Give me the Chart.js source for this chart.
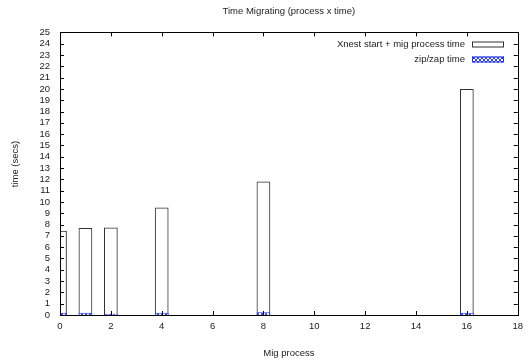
<!DOCTYPE html>
<html>
<head>
<meta charset="utf-8">
<script src="https://cdn.jsdelivr.net/npm/chart.js@4"></script>
<style>
    html, body { margin: 0; padding: 0; background: #fff; }
    #wrap { width: 529px; height: 362px; }
</style>
</head>
<body>
<div id="wrap"><canvas id="migChart"></canvas></div>
<script>
// data
const procCounts = [0, 1, 2, 4, 8, 16];
const xnestTimes = [7.45, 7.7, 7.75, 9.5, 11.8, 20.0];
const zipTimes = [0.2, 0.2, 0.1, 0.2, 0.25, 0.2];
const seriesLabels = ['Xnest start + mig process time', 'zip/zap time'];
const chartTitle = 'Time Migrating (process x time)';
const xTitle = 'Mig process';
const yTitle = 'time (secs)';

const FONT = '"Liberation Sans", Arial, sans-serif';

// blue crosshatch like gnuplot's fill pattern
function makeHatch() {
    const c = document.createElement('canvas');
    c.width = 4; c.height = 4;
    const g = c.getContext('2d');
    g.fillStyle = '#fff';
    g.fillRect(0, 0, 4, 4);
    g.strokeStyle = '#3344ff';
    g.lineWidth = 1;
    g.beginPath();
    g.moveTo(0, 0); g.lineTo(4, 4);
    g.moveTo(4, 0); g.lineTo(0, 4);
    g.stroke();
    return g.createPattern(c, 'repeat');
}
const hatch = makeHatch();

// frame, mirrored inward ticks, y title and gnuplot style key
const gnuFrame = {
    id: 'gnuFrame',
    afterDraw(chart) {
        const { ctx, chartArea: a, scales } = chart;
        ctx.save();
        ctx.strokeStyle = '#000';
        ctx.lineWidth = 1;
        ctx.strokeRect(Math.round(a.left) + 0.5, Math.round(a.top) + 0.5,
            Math.round(a.right - a.left), Math.round(a.bottom - a.top));

        const tl = 4;
        ctx.beginPath();
        scales.y.ticks.forEach((t, i) => {
            const y = Math.round(scales.y.getPixelForTick(i)) + 0.5;
            ctx.moveTo(a.left, y); ctx.lineTo(a.left + tl, y);
            ctx.moveTo(a.right, y); ctx.lineTo(a.right - tl, y);
        });
        scales.x.ticks.forEach((t, i) => {
            const x = Math.round(scales.x.getPixelForTick(i)) + 0.5;
            ctx.moveTo(x, a.bottom); ctx.lineTo(x, a.bottom - tl);
            ctx.moveTo(x, a.top); ctx.lineTo(x, a.top + tl);
        });
        ctx.stroke();

        // y axis title
        ctx.fillStyle = '#222';
        ctx.font = '9.5px ' + FONT;
        ctx.textAlign = 'center';
        ctx.textBaseline = 'middle';
        ctx.translate(15, 164);
        ctx.rotate(-Math.PI / 2);
        ctx.fillText(yTitle, 0, 0);
        ctx.setTransform(1, 0, 0, 1, 0, 0);

        // key: text right aligned, swatch on the right
        const ds = chart.data.datasets;
        ctx.textAlign = 'right';
        [0, 1].forEach(i => {
            const cy = 44.5 + i * 15;
            ctx.fillStyle = '#222';
            ctx.fillText(ds[i].label, 465, cy);
            ctx.fillStyle = i === 0 ? '#fff' : hatch;
            ctx.fillRect(472, cy - 3, 32, 6);
            ctx.strokeStyle = ds[i].borderColor;
            ctx.strokeRect(472.5, cy - 2.5, 31, 5);
        });
        ctx.restore();
    }
};

new Chart(document.getElementById('migChart'), {
    type: 'bar',
    data: {
        datasets: [{
            label: seriesLabels[0],
            data: procCounts.map((p, i) => ({ x: p, y: xnestTimes[i] })),
            backgroundColor: 'rgba(255,255,255,0)',
            borderColor: '#333',
            borderWidth: 1,
            grouped: false,
            order: 1
        }, {
            label: seriesLabels[1],
            data: procCounts.map((p, i) => ({ x: p, y: zipTimes[i] })),
            backgroundColor: hatch,
            borderColor: '#1f2fff',
            borderWidth: 1,
            grouped: false,
            order: 0
        }]
    },
    options: {
        responsive: true,
        maintainAspectRatio: false,
        animation: false,
        barPercentage: 0.54,
        categoryPercentage: 1,
        layout: { padding: { left: 0, right: 11, top: 0, bottom: 0 } },
        plugins: {
            legend: { display: false },
            tooltip: { enabled: false },
            title: {
                display: true,
                text: chartTitle,
                fullSize: false,
                color: '#222',
                font: { family: FONT, size: 9.5, weight: 'normal', lineHeight: 1.2 },
                padding: { top: 6, bottom: 15 }
            }
        },
        scales: {
            x: {
                type: 'linear',
                min: 0,
                max: 18,
                offset: false,
                grid: { display: false, drawTicks: false, offset: false },
                border: { display: false },
                ticks: { stepSize: 2, autoSkip: false, color: '#222', padding: 6, maxRotation: 0, font: { family: FONT, size: 9.5 } },
                title: { display: true, text: xTitle, color: '#222', padding: { top: 3, bottom: 3 }, font: { family: FONT, size: 9.5, lineHeight: 1.2 } },
                afterFit: (s) => { s.height = 47; }
            },
            y: {
                min: 0,
                max: 25,
                grid: { display: false, drawTicks: false },
                border: { display: false },
                ticks: { stepSize: 1, autoSkip: false, color: '#222', padding: 10, font: { family: FONT, size: 9.5 } },
                afterFit: (s) => { s.width = 60; }
            }
        }
    },
    plugins: [gnuFrame]
});
</script>
</body>
</html>
